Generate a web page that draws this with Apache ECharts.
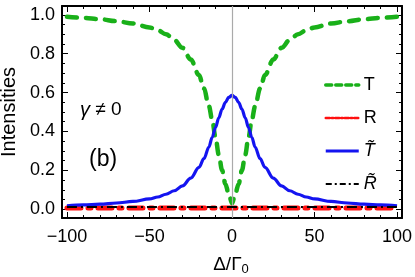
<!DOCTYPE html>
<html>
<head>
<meta charset="utf-8">
<script src="https://cdn.jsdelivr.net/npm/echarts@6/dist/echarts.min.js"></script>
<style>html,body{margin:0;padding:0;background:#fff}#c{width:415px;height:277px}</style>
</head>
<body>
<div id="c"></div>
<script>
// detuning values Δ/Γ0
const detuning = [-100,-90,-80,-70,-60,-50,-45,-40,-35,-30,-25,-20,-17,-14,-12,-10,-8,-6,-4,-2,0,2,4,6,8,10,12,14,17,20,25,30,35,40,45,50,60,70,80,90,100];
// T (green dashed)
const seriesT = [0.99,0.984,0.977,0.967,0.955,0.935,0.92,0.90,0.87,0.83,0.77,0.69,0.62,0.53,0.46,0.37,0.28,0.20,0.13,0.08,0.03,0.08,0.13,0.20,0.28,0.37,0.46,0.53,0.62,0.69,0.77,0.83,0.87,0.90,0.92,0.935,0.955,0.967,0.977,0.984,0.99];
// R (red dash-dot)
const seriesR = [0.007,0.007,0.007,0.007,0.007,0.007,0.007,0.007,0.007,0.007,0.007,0.007,0.007,0.007,0.007,0.007,0.007,0.007,0.007,0.007,0.007,0.007,0.007,0.007,0.007,0.007,0.007,0.007,0.007,0.007,0.007,0.007,0.007,0.007,0.007,0.007,0.007,0.007,0.007,0.007,0.007];
// T tilde (blue solid)
const seriesTt = [0.018,0.022,0.026,0.032,0.04,0.053,0.063,0.077,0.095,0.12,0.16,0.215,0.26,0.32,0.37,0.42,0.47,0.515,0.55,0.575,0.585,0.575,0.55,0.515,0.47,0.42,0.37,0.32,0.26,0.215,0.16,0.12,0.095,0.077,0.063,0.053,0.04,0.032,0.026,0.022,0.018];
// R tilde (black dot-dash)
const seriesRt = [0.011,0.011,0.011,0.011,0.011,0.011,0.011,0.011,0.011,0.011,0.011,0.011,0.011,0.011,0.011,0.011,0.011,0.011,0.011,0.011,0.011,0.011,0.011,0.011,0.011,0.011,0.011,0.011,0.011,0.011,0.011,0.011,0.011,0.011,0.011,0.011,0.011,0.011,0.011,0.011,0.011];
// tick labels
const xMajor = [-100,-50,0,50,100];
const xMinor = [-100,-90,-80,-70,-60,-50,-40,-30,-20,-10,0,10,20,30,40,50,60,70,80,90,100];
const yMajor = [0,0.2,0.4,0.6,0.8,1.0];
const yMinor = [0,0.05,0.1,0.15,0.2,0.25,0.3,0.35,0.4,0.45,0.5,0.55,0.6,0.65,0.7,0.75,0.8,0.85,0.9,0.95,1.0];

const FONT = 'Liberation Sans';
const pair = arr => detuning.map((x,i)=>[x,arr[i]]);
const XMIN=-103, XMAX=103, YMIN=-0.045, YMAX=1.045;

function xAx(pos, ticks, len, line, labels){
  return {type:'value', min:XMIN, max:XMAX, position:pos,
    axisLine:{show:line, onZero:false, lineStyle:{color:'#000', width:2}},
    axisTick:{show:true, inside:true, length:len, customValues:ticks, lineStyle:{color:'#000', width:1}},
    axisLabel:{show:labels, customValues:xMajor, fontSize:18, fontFamily:FONT, color:'#000', margin:10,
      formatter:v=> v<0 ? '\u2212'+Math.abs(v) : String(v)},
    splitLine:{show:false}};
}
function yAx(pos, ticks, len, line, labels){
  return {type:'value', min:YMIN, max:YMAX, position:pos,
    axisLine:{show:line, onZero:false, lineStyle:{color:'#000', width:2}},
    axisTick:{show:true, inside:true, length:len, customValues:ticks, lineStyle:{color:'#000', width:1}},
    axisLabel:{show:labels, customValues:yMajor, fontSize:18, fontFamily:FONT, color:'#000', margin:7,
      formatter:v=> v.toFixed(1)},
    splitLine:{show:false}};
}
const ya0 = yAx('left', yMajor, 6, true, true);
ya0.name = 'Intensities';
ya0.nameLocation = 'middle';
ya0.nameGap = 37;
ya0.nameTextStyle = {fontSize:20, fontFamily:FONT, color:'#000'};

const hidden = {color:'rgba(0,0,0,0)', opacity:0, borderWidth:0};
const chart = echarts.init(document.getElementById('c'), null, {renderer:'canvas'});
chart.setOption({
  animation:false,
  backgroundColor:'#fff',
  grid:{left:62, right:13, top:6, bottom:59, containLabel:false, outerBoundsMode:'none'},
  xAxis:[xAx('bottom', xMajor, 6, true, true), xAx('bottom', xMinor, 3, false, false), xAx('top', xMajor, 6, true, false), xAx('top', xMinor, 3, false, false)],
  yAxis:[ya0, yAx('left', yMinor, 3, false, false), yAx('right', yMajor, 6, true, false), yAx('right', yMinor, 3, false, false)],
  legend:{orient:'vertical', left:319, top:71, itemWidth:33, itemHeight:14, itemGap:15,
    textStyle:{fontSize:18, fontFamily:FONT, color:'#000', rich:{i:{fontSize:18, fontFamily:FONT, fontStyle:'italic', color:'#000'}}},
    formatter:n=> (n.indexOf('\u0303')>=0 ? '{i|'+n+'}' : n),
    data:[
      {name:'T', itemStyle:hidden, lineStyle:{width:3.5, type:[6,4]}},
      {name:'R', itemStyle:hidden, lineStyle:{width:2.5, type:[4,2,1.5,2]}},
      {name:'T\u0303', itemStyle:hidden, lineStyle:{width:3}},
      {name:'R\u0303', itemStyle:hidden, lineStyle:{width:2, type:[6,3,2,3]}}
    ]},
  graphic:[
    {type:'text', left:80, top:100, style:{text:'{i|γ} ≠ 0', fontSize:19, fontFamily:FONT, fill:'#000',
      rich:{i:{fontStyle:'italic', fontSize:20, fontFamily:FONT, fill:'#000'}}}},
    {type:'text', left:89, top:148, style:{text:'(b)', fontSize:23, fontFamily:FONT, fill:'#000'}},
    {type:'text', x:231, y:265, style:{text:'{n|Δ/Γ}{s|0}', align:'center', verticalAlign:'middle', fill:'#000',
      rich:{n:{fontSize:19, fontFamily:FONT, fill:'#000'}, s:{fontSize:13, fontFamily:FONT, fill:'#000', padding:[9,0,0,0]}}}}
  ],
  series:[
    {name:'T', type:'line', data:pair(seriesT), symbol:'none', smooth:0.35, smoothMonotone:'x',
      lineStyle:{color:'#19b019', width:4.5, type:[10,9], cap:'round'}, itemStyle:{color:'#19b019'},
      markLine:{silent:true, symbol:['none','none'], label:{show:false}, data:[{xAxis:0}],
        lineStyle:{color:'#aaaaaa', width:1.2, type:'solid'}}, z:2},
    {name:'R', type:'line', data:pair(seriesR), symbol:'none',
      lineStyle:{color:'#ff1010', width:5, type:[14,7,3,7], cap:'round'}, itemStyle:{color:'#ff1010'}, z:3},
    {name:'T\u0303', type:'line', data:pair(seriesTt), symbol:'none', smooth:0.35, smoothMonotone:'x',
      lineStyle:{color:'#1414f0', width:3.2}, itemStyle:{color:'#1414f0'}, z:4},
    {name:'R\u0303', type:'line', data:pair(seriesRt), symbol:'none',
      lineStyle:{color:'#000', width:2, type:[10,4,2,4]}, itemStyle:{color:'#000'}, z:5}
  ]
});
</script>
</body>
</html>
